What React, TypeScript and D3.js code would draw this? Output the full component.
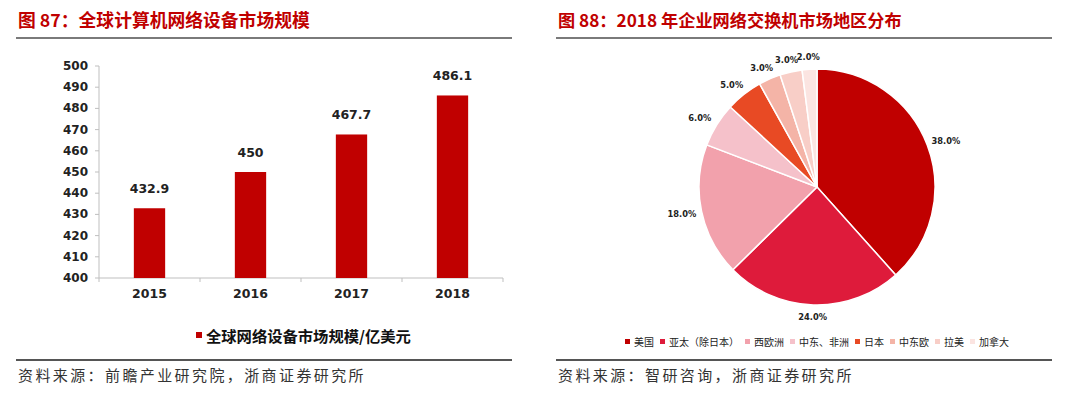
import * as d3 from 'd3';

// left panel: global network equipment market size
const years = ['2015', '2016', '2017', '2018'];
const marketSize = [432.9, 450, 467.7, 486.1];
const marketLabels = ['432.9', '450', '467.7', '486.1'];
const yTicks = [400, 410, 420, 430, 440, 450, 460, 470, 480, 490, 500];

// right panel: 2018 enterprise switch market by region
const regions = ['美国', '亚太（除日本）', '西欧洲', '中东、非洲', '日本', '中东欧', '拉美', '加拿大'];
const regionShare = [38, 24, 18, 6, 5, 3, 3, 2];
const regionColors = ['#C00000', '#DE1B3B', '#F2A1AC', '#F5C1CA', '#E84A24', '#F4B4A7', '#F8CEC7', '#FBE4E1'];

const CJK = '"Noto Sans CJK SC", "Noto Sans", sans-serif';
const NUM = '"DejaVu Sans", "Liberation Sans", sans-serif';

function BarPanel() {
	const x = d3.scaleBand().domain(years).range([99, 503]).paddingInner(0.69).paddingOuter(0.345);
	const y = d3.scaleLinear().domain([400, 500]).range([278, 66]);
	const bounds = [0, 1, 2, 3, 4].map((i) => 99 + i * (404 / 4));

	return (
		<g>
			<text x={18} y={27} fill="#C00000" fontFamily={CJK} fontWeight={700} fontSize={17.8}>
				图 87：全球计算机网络设备市场规模
			</text>
			<line x1={16} x2={512} y1={38} y2={38} stroke="#7a7a7a" strokeWidth={2} />

			{/* axes */}
			<line x1={99} x2={99} y1={y(500)} y2={y(400)} stroke="#BFBFBF" />
			<line x1={99} x2={503} y1={y(400)} y2={y(400)} stroke="#BFBFBF" />
			{yTicks.map((t) => (
				<g key={t}>
					<line x1={95} x2={99} y1={y(t)} y2={y(t)} stroke="#BFBFBF" />
					<text
						x={88}
						y={y(t)}
						textAnchor="end"
						dominantBaseline="central"
						fontFamily={NUM}
						fontWeight={700}
						fontSize={12}
						fill="#222"
					>
						{t}
					</text>
				</g>
			))}
			{bounds.map((b) => (
				<line key={b} x1={b} x2={b} y1={y(400)} y2={y(400) + 4} stroke="#BFBFBF" />
			))}

			{years.map((yr, i) => (
				<g key={yr}>
					<rect
						x={x(yr)}
						y={y(marketSize[i])}
						width={x.bandwidth()}
						height={y(400) - y(marketSize[i])}
						fill="#C00000"
					/>
					<text
						x={(x(yr) ?? 0) + x.bandwidth() / 2}
						y={y(marketSize[i]) - 15}
						textAnchor="middle"
						fontFamily={NUM}
						fontWeight={700}
						fontSize={12.5}
						fill="#222"
					>
						{marketLabels[i]}
					</text>
					<text
						x={(x(yr) ?? 0) + x.bandwidth() / 2}
						y={298}
						textAnchor="middle"
						fontFamily={NUM}
						fontWeight={700}
						fontSize={12.5}
						fill="#222"
					>
						{yr}
					</text>
				</g>
			))}

			{/* legend */}
			<rect x={196} y={332} width={6} height={6} fill="#C00000" />
			<text x={206} y={342} fontFamily={CJK} fontWeight={700} fontSize={15.3} fill="#111">
				全球网络设备市场规模/亿美元
			</text>

			<line x1={16} x2={512} y1={360} y2={360} stroke="#555" strokeWidth={2} />
			<text x={18} y={381} fontFamily={CJK} fontSize={15} letterSpacing={2.4} fill="#333">
				资料来源：前瞻产业研究院，浙商证券研究所
			</text>
		</g>
	);
}

function PiePanel() {
	const cx = 817;
	const cy = 187;
	const r = 118;
	const pie = d3.pie<number>().sort(null).value((d) => d);
	const arcs = pie(regionShare);
	const arc = d3.arc<d3.PieArcDatum<number>>().innerRadius(0).outerRadius(r);

	// legend layout, items laid out left to right and centred under the pie
	const fs = 10;
	const widths = regions.map((name) => 9 + name.length * fs);
	const gap = 6;
	const total = d3.sum(widths) + gap * (regions.length - 1);
	const starts: number[] = [];
	let acc = cx - total / 2;
	widths.forEach((w) => {
		starts.push(acc);
		acc += w + gap;
	});

	return (
		<g>
			<text x={558} y={27} fill="#C00000" fontFamily={CJK} fontWeight={700} fontSize={17.2}>
				图 88：2018 年企业网络交换机市场地区分布
			</text>
			<line x1={556} x2={1052} y1={38} y2={38} stroke="#7a7a7a" strokeWidth={2} />

			<g transform={`translate(${cx},${cy})`}>
				{arcs.map((a, i) => (
					<path key={regions[i]} d={arc(a) ?? ''} fill={regionColors[i]} stroke="#fff" strokeWidth={1.5} />
				))}
				{arcs.map((a, i) => {
					const mid = (a.startAngle + a.endAngle) / 2;
					const s = Math.sin(mid);
					const c = Math.cos(mid);
					const lx = s * (r + 6) + s * 14;
					const ly = -c * (r + 6) - c * 6;
					return (
						<text
							key={regions[i]}
							x={lx}
							y={ly}
							textAnchor="middle"
							dominantBaseline="central"
							fontFamily={NUM}
							fontWeight={700}
							fontSize={8.3}
							fill="#222"
						>
							{`${regionShare[i].toFixed(1)}%`}
						</text>
					);
				})}
			</g>

			{regions.map((name, i) => (
				<g key={name}>
					<rect x={starts[i]} y={339} width={5} height={5} fill={regionColors[i]} />
					<text x={starts[i] + 9} y={346} fontFamily={CJK} fontSize={fs} fill="#222">
						{name}
					</text>
				</g>
			))}

			<line x1={556} x2={1052} y1={360} y2={360} stroke="#555" strokeWidth={2} />
			<text x={558} y={381} fontFamily={CJK} fontSize={15} letterSpacing={2.4} fill="#333">
				资料来源：智研咨询，浙商证券研究所
			</text>
		</g>
	);
}

export default function App() {
	return (
		<svg
			width={1080}
			height={398}
			style={{ position: 'absolute', left: 0, top: 0, background: '#fff' }}
		>
			<rect width={1080} height={398} fill="#fff" />
			<BarPanel />
			<PiePanel />
		</svg>
	);
}
